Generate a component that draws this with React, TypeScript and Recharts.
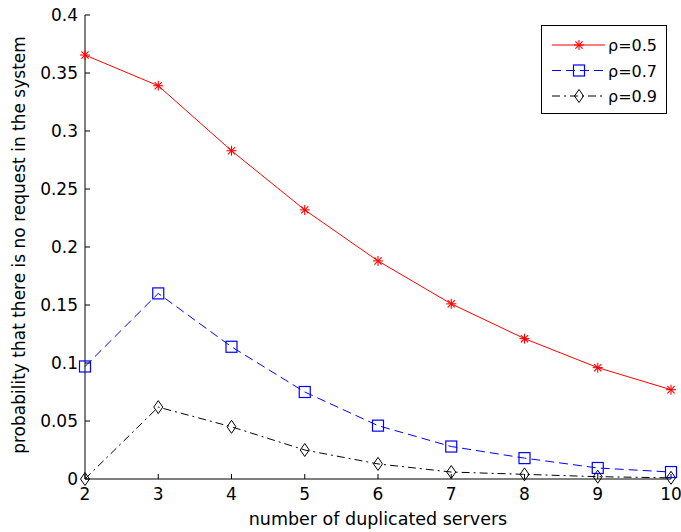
import React from 'react';
import { LineChart, Line, XAxis, YAxis, Legend } from 'recharts';

const servers = [2, 3, 4, 5, 6, 7, 8, 9, 10];
const rho05 = [0.3655, 0.339, 0.283, 0.232, 0.188, 0.151, 0.121, 0.096, 0.077];
const rho07 = [0.097, 0.16, 0.114, 0.075, 0.046, 0.028, 0.018, 0.0095, 0.006];
const rho09 = [0, 0.062, 0.045, 0.025, 0.013, 0.006, 0.004, 0.002, 0.001];
const xTicks = [2, 3, 4, 5, 6, 7, 8, 9, 10];
const yTicks = [0, 0.05, 0.1, 0.15, 0.2, 0.25, 0.3, 0.35, 0.4];
const seriesLabels = ['ρ=0.5', 'ρ=0.7', 'ρ=0.9'];
const xLabel = 'number of duplicated servers';
const yLabel = 'probability that there is no request in the system';

const data = servers.map((s, i) => ({ servers: s, r5: rho05[i], r7: rho07[i], r9: rho09[i] }));

const FONT = '"DejaVu Sans", Verdana, sans-serif';
const RED = '#ff0000';
const BLUE = '#0000ff';
const BLACK = '#000000';
const DASH = '9 5';
const DASHDOT = '8 4 2 4';

const Star = ({ cx, cy }: { cx: number; cy: number }) => (
  <g stroke={RED} strokeWidth={1.1}>
    <line x1={cx - 5} y1={cy} x2={cx + 5} y2={cy} />
    <line x1={cx} y1={cy - 5} x2={cx} y2={cy + 5} />
    <line x1={cx - 3.6} y1={cy - 3.6} x2={cx + 3.6} y2={cy + 3.6} />
    <line x1={cx - 3.6} y1={cy + 3.6} x2={cx + 3.6} y2={cy - 3.6} />
  </g>
);
const Square = ({ cx, cy }: { cx: number; cy: number }) => (
  <rect x={cx - 5.5} y={cy - 5.5} width={11} height={11} fill="none" stroke={BLUE} strokeWidth={1.2} />
);
const Diamond = ({ cx, cy }: { cx: number; cy: number }) => (
  <polygon
    points={`${cx},${cy - 6.5} ${cx + 4.5},${cy} ${cx},${cy + 6.5} ${cx - 4.5},${cy}`}
    fill="none"
    stroke={BLACK}
    strokeWidth={1}
  />
);

const markers = [Star, Square, Diamond];
const colors = [RED, BLUE, BLACK];
const dashes = [undefined, DASH, DASHDOT];

const LegendBox = () => (
  <svg width={126} height={89} style={{ display: 'block', fontFamily: FONT }}>
    <rect x={0.5} y={0.5} width={125} height={88} fill="#fff" stroke="#000" strokeWidth={1} />
    {seriesLabels.map((lab, i) => {
      const y = 20 + i * 25.5;
      const M = markers[i];
      return (
        <g key={lab}>
          <line x1={11} y1={y} x2={64} y2={y} stroke={colors[i]} strokeWidth={1} strokeDasharray={dashes[i]} />
          <M cx={38} cy={y} />
          <text x={67} y={y + 6} fontSize={16} fill="#000">{lab}</text>
        </g>
      );
    })}
  </svg>
);

const tickStyle = { fill: '#000', fontSize: 17, fontFamily: FONT };

export default function App() {
  return (
    <div style={{ position: 'absolute', left: 0, top: 0, background: '#fff' }}>
      <LineChart
        width={681}
        height={532}
        data={data}
        margin={{ top: 15, right: 10, left: 0, bottom: 0 }}
        style={{ fontFamily: FONT }}
      >
        <XAxis
          dataKey="servers"
          type="number"
          domain={[2, 10]}
          ticks={xTicks}
          height={53}
          tickSize={-5}
          tickMargin={14}
          tick={tickStyle}
          stroke="#000"
          interval={0}
          label={{
            content: (p: any) => {
              const vb = p.viewBox;
              return (
                <text x={vb.x + vb.width / 2} y={vb.y + vb.height - 7} textAnchor="middle" fontSize={17.5} fill="#000" fontFamily={FONT}>
                  {xLabel}
                </text>
              );
            },
          }}
        />
        <XAxis
          xAxisId="top"
          orientation="top"
          type="number"
          domain={[2, 10]}
          ticks={xTicks}
          height={0}
          tickSize={-5}
          tick={false}
          stroke="#000"
          interval={0}
        />
        <YAxis
          type="number"
          domain={[0, 0.4]}
          ticks={yTicks}
          width={85}
          tickSize={-5}
          tickMargin={12}
          tick={tickStyle}
          stroke="#000"
          interval={0}
          tickFormatter={(v: number) => String(v)}
          label={{
            content: (p: any) => {
              const vb = p.viewBox;
              const cx = vb.x + 25;
              const cy = vb.y + vb.height / 2 - 2;
              return (
                <text x={cx} y={cy} textAnchor="middle" fontSize={17} fill="#000" fontFamily={FONT} transform={`rotate(-90, ${cx}, ${cy})`}>
                  {yLabel}
                </text>
              );
            },
          }}
        />
        <YAxis
          yAxisId="right"
          orientation="right"
          type="number"
          domain={[0, 0.4]}
          ticks={yTicks}
          width={0}
          tickSize={-5}
          tick={false}
          stroke="#000"
          interval={0}
        />
        <Legend
          layout="vertical"
          align="center"
          verticalAlign="middle"
          wrapperStyle={{ left: 541, top: 25, width: 126, height: 89 }}
          content={() => <LegendBox />}
        />
        <Line
          dataKey="r5"
          stroke={RED}
          strokeWidth={1}
          isAnimationActive={false}
          dot={(p: any) => <Star key={`s${p.index}`} cx={p.cx} cy={p.cy} />}
          activeDot={false}
        />
        <Line
          dataKey="r7"
          stroke={BLUE}
          strokeWidth={1}
          strokeDasharray={DASH}
          isAnimationActive={false}
          dot={(p: any) => <Square key={`q${p.index}`} cx={p.cx} cy={p.cy} />}
          activeDot={false}
        />
        <Line
          dataKey="r9"
          stroke={BLACK}
          strokeWidth={1}
          strokeDasharray={DASHDOT}
          isAnimationActive={false}
          dot={(p: any) => <Diamond key={`d${p.index}`} cx={p.cx} cy={p.cy} />}
          activeDot={false}
        />
      </LineChart>
    </div>
  );
}
